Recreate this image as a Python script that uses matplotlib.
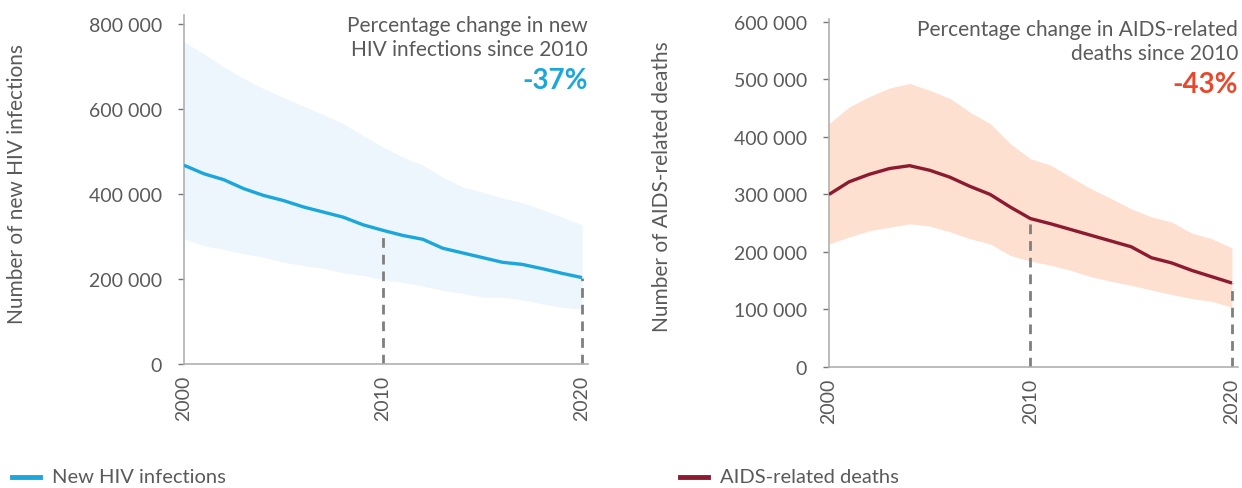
import matplotlib
matplotlib.use("Agg")
import matplotlib.pyplot as plt
from matplotlib.lines import Line2D
from matplotlib.ticker import FuncFormatter

years = list(range(2000, 2021))

# New HIV infections: estimate with lower and upper bounds
hiv_est = [467, 447, 433, 412, 396, 384, 369, 357, 345, 327, 314,
           302, 293, 272, 261, 250, 239, 234, 224, 213, 203]
hiv_low = [294, 278, 269, 259, 251, 239, 231, 225, 214, 208, 198,
           192, 183, 173, 166, 157, 157, 151, 141, 133, 129]
hiv_high = [757, 729, 698, 671, 647, 626, 606, 586, 565, 537, 510,
            486, 467, 439, 416, 404, 390, 379, 363, 345, 327]

# AIDS-related deaths: estimate with lower and upper bounds
aids_est = [300, 322, 335, 345, 350, 342, 330, 314, 300, 278, 258,
            249, 239, 229, 219, 209, 190, 181, 168, 157, 146]
aids_low = [214, 226, 237, 243, 249, 245, 235, 223, 214, 194, 184,
            177, 168, 157, 149, 142, 134, 126, 119, 114, 104]
aids_high = [423, 452, 470, 485, 493, 481, 467, 443, 423, 388, 362,
             351, 330, 310, 293, 275, 261, 252, 233, 223, 207]

hiv_ticks = [0, 200000, 400000, 600000, 800000]
aids_ticks = [0, 100000, 200000, 300000, 400000, 500000, 600000]
year_ticks = [2000, 2010, 2020]
ref_years = [2010, 2020]

FONT = "Lato"
GREY_TXT = "#5a5a5a"
SPINE = "#b0b0b0"

plt.rcParams["font.family"] = [FONT, "DejaVu Sans"]

fig = plt.figure(figsize=(12.42, 4.89), dpi=100)
W, H = 1242, 489


def ax_at(x0, y0, x1, y1):
    return fig.add_axes([x0 / W, 1 - y1 / H, (x1 - x0) / W, (y1 - y0) / H])


def thousands(v, _):
    v = int(round(v))
    return "0" if v == 0 else f"{v:,}".replace(",", " ")


def panel(ax, est, low, high, ticks, ymax, line_col, band_col, ylabel,
          title, pct, pct_col, label_x):
    k = [v * 1000 for v in est]
    ax.fill_between(years, [v * 1000 for v in low], [v * 1000 for v in high],
                    color=band_col, lw=0, zorder=1)
    ax.plot(years, k, color=line_col, lw=2.4, zorder=3, solid_capstyle="butt")
    for yr in ref_years:
        v = k[years.index(yr)]
        ax.plot([yr, yr], [0, v], color="#7f7f7f", lw=2, ls=(0, (3.5, 2.5)),
                zorder=2)
    ax.set_xlim(2000, 2020.3)
    ax.set_ylim(0, ymax)
    ax.set_yticks(ticks)
    ax.yaxis.set_major_formatter(FuncFormatter(thousands))
    ax.set_xticks(year_ticks)
    ax.set_xticklabels([str(y) for y in year_ticks], rotation=90)
    for s in ("top", "right"):
        ax.spines[s].set_visible(False)
    for s in ("left", "bottom"):
        ax.spines[s].set_color(SPINE)
        ax.spines[s].set_linewidth(1.2)
    ax.tick_params(axis="y", length=4, width=1, color="#777777", pad=12,
                   labelsize=14, labelcolor=GREY_TXT)
    ax.tick_params(axis="x", length=0, pad=8, labelsize=14,
                   labelcolor=GREY_TXT)
    ax.set_ylabel(ylabel, fontsize=15, color=GREY_TXT)
    ax.yaxis.set_label_coords(label_x, 0.52)
    ax.text(1.0, 1.0, title, transform=ax.transAxes, ha="right", va="top",
            fontsize=15, color=GREY_TXT, linespacing=1.22)
    ax.text(1.0, 0.85, pct, transform=ax.transAxes, ha="right", va="top",
            fontsize=20, color=pct_col, fontweight="bold")


ax1 = ax_at(184, 16, 588, 365)
panel(ax1, hiv_est, hiv_low, hiv_high, hiv_ticks, 820000, "#1ba6dc",
      "#eef6fd", "Number of new HIV infections",
      "Percentage change in new\nHIV infections since 2010", "-37%",
      "#1ba6dc", -0.388)

ax2 = ax_at(829, 20, 1238, 368)
panel(ax2, aids_est, aids_low, aids_high, aids_ticks, 605000, "#8c1a30",
      "#fde0cf", "Number of AIDS-related deaths",
      "Percentage change in AIDS-related\ndeaths since 2010", "-43%",
      "#e8482c", -0.383)

# Legend entries along the bottom
for x0, col, label in [(12, "#1ba6dc", "New HIV infections"),
                       (680, "#8c1a30", "AIDS-related deaths")]:
    fig.add_artist(Line2D([x0 / W, (x0 + 28) / W], [1 - 478 / H] * 2,
                          color=col, lw=3.5, transform=fig.transFigure))
    fig.text((x0 + 40) / W, 1 - 478 / H, label, ha="left", va="center",
             fontsize=14.5, color=GREY_TXT)

fig.savefig("out.png", dpi=100)
